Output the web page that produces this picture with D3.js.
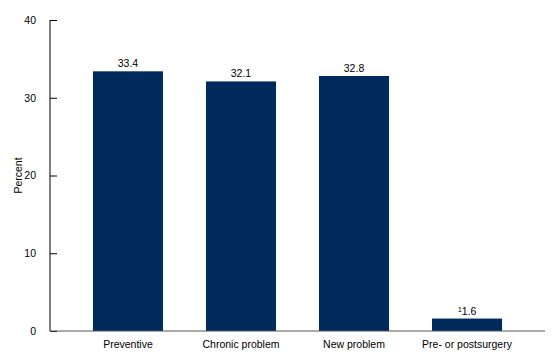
<!DOCTYPE html>
<html lang="en">
<head>
<meta charset="UTF-8">
<title>Visits by reason</title>
<script src="https://d3js.org/d3.v7.min.js"></script>
<style>
    body { margin: 0; background: #fff; }
    text { font-family: "Liberation Sans", Arial, sans-serif; font-size: 10.5px; fill: #000; }
</style>
</head>
<body>
<svg width="560" height="362"></svg>
<script>
    var categories = ["Preventive", "Chronic problem", "New problem", "Pre- or postsurgery"];
    var values = [33.4, 32.1, 32.8, 1.6];
    var footnotes = ["", "", "", "1"];
    var yTicks = [0, 10, 20, 30, 40];

    var svg = d3.select("svg");
    var plotLeft = 50, plotRight = 545, plotTop = 20, plotBottom = 331;

    var x = d3.scaleBand()
        .domain(categories)
        .range([plotLeft, plotRight])
        .paddingInner(0.38)
        .paddingOuter(0.38);

    var y = d3.scaleLinear()
        .domain([0, 40])
        .range([plotBottom, plotTop]);

    // bars
    svg.selectAll("rect.bar")
        .data(categories)
        .enter().append("rect")
        .attr("class", "bar")
        .attr("x", function(d) { return x(d); })
        .attr("width", x.bandwidth())
        .attr("y", function(d, i) { return y(values[i]); })
        .attr("height", function(d, i) { return plotBottom - y(values[i]); })
        .attr("fill", "#002b5c");

    // value labels
    var lbl = svg.selectAll("text.val")
        .data(categories)
        .enter().append("text")
        .attr("class", "val")
        .attr("x", function(d) { return x(d) + x.bandwidth() / 2; })
        .attr("y", function(d, i) { return y(values[i]) - 4; })
        .attr("text-anchor", "middle");
    lbl.each(function(d, i) {
        var t = d3.select(this);
        if (footnotes[i]) {
            t.append("tspan").attr("font-size", "7.5px").attr("dy", "-3").text(footnotes[i]);
            t.append("tspan").attr("dy", "3").text(values[i].toFixed(1));
        } else {
            t.text(values[i].toFixed(1));
        }
    });

    // y axis
    var yAxis = svg.append("g")
        .attr("transform", "translate(" + plotLeft + ",0)")
        .call(d3.axisRight(y).tickValues(yTicks).tickSize(7).tickFormat(d3.format("d")));
    yAxis.select(".domain").attr("stroke", "#000").attr("d", "M0," + plotTop + "V" + plotBottom);
    yAxis.selectAll(".tick line").attr("stroke", "#000");
    yAxis.selectAll(".tick text")
        .attr("x", -14)
        .attr("text-anchor", "end")
        .style("font-family", "Liberation Sans, Arial, sans-serif")
        .style("font-size", "10.5px");

    // x axis
    var xAxis = svg.append("g")
        .attr("transform", "translate(0," + plotBottom + ")")
        .call(d3.axisBottom(x).tickSize(0).tickPadding(10));
    xAxis.select(".domain").attr("stroke", "#555").attr("d", "M" + plotLeft + ",0H" + plotRight);
    xAxis.selectAll(".tick text")
        .style("font-family", "Liberation Sans, Arial, sans-serif")
        .style("font-size", "10.5px")
        .attr("fill", "#000");

    svg.append("text")
        .attr("transform", "translate(22," + ((plotTop + plotBottom) / 2) + ") rotate(-90)")
        .attr("text-anchor", "middle")
        .text("Percent");
</script>
</body>
</html>
